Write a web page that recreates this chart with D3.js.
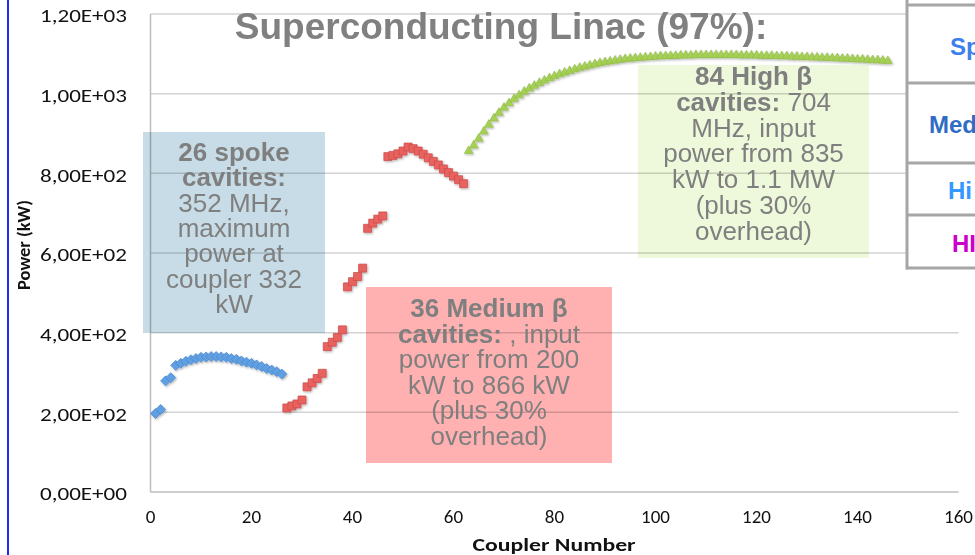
<!DOCTYPE html>
<html>
<head>
<meta charset="utf-8">
<script src="https://cdn.jsdelivr.net/npm/d3@7"></script>
<style>
  body { margin: 0; background: #fff; }
  svg { display: block; }
</style>
</head>
<body>
<svg id="chart" width="975" height="555"></svg>
<script>
// spoke cavities, couplers 1..26
const spokeStart = 1;
const spokePower = [197, 207, 279, 287, 318, 323, 328, 332, 335, 338, 339, 340, 340,
  339, 338, 335, 333, 329, 326, 323, 319, 315, 310, 306, 302, 296];

// medium beta cavities, couplers 27..62
const mediumStart = 27;
const mediumPower = [211, 216, 221, 231, 264, 274, 285, 298, 365, 376, 388, 407,
  515, 528, 541, 562, 662, 675, 685, 693, 842, 845, 849, 856, 866, 862, 856, 848,
  839, 830, 821, 811, 802, 793, 784, 774];

// high beta cavities, couplers 63..146
const highStart = 63;
const highPower = [856, 870, 887, 905, 922, 938, 952, 965, 976, 987, 996, 1005, 1013,
  1020, 1027, 1033, 1039, 1044, 1049, 1053, 1057, 1061, 1065, 1068, 1071, 1074, 1077,
  1079, 1081, 1083, 1085, 1087, 1088, 1089, 1090, 1091, 1092, 1093, 1094, 1094, 1095,
  1095, 1096, 1096, 1096, 1097, 1097, 1097, 1097, 1097, 1097, 1097, 1097, 1097, 1096,
  1096, 1096, 1096, 1095, 1095, 1095, 1094, 1094, 1094, 1093, 1093, 1092, 1092, 1091,
  1091, 1090, 1090, 1089, 1089, 1088, 1088, 1087, 1086, 1086, 1085, 1084, 1084, 1083, 1082];

const xTicks = [0, 20, 40, 60, 80, 100, 120, 140, 160];
const yTicks = [0, 200, 400, 600, 800, 1000, 1200];

const titleText = "Superconducting Linac (97%):";
const xTitle = "Coupler Number";
const yTitle = "Power (kW)";

const spokeNote = [
  { b: "26 spoke", n: "" },
  { b: "cavities:", n: "" },
  { b: "", n: "352 MHz," },
  { b: "", n: "maximum" },
  { b: "", n: "power at" },
  { b: "", n: "coupler 332" },
  { b: "", n: "kW" }
];
const mediumNote = [
  { b: "36 Medium β", n: "" },
  { b: "cavities:", n: " , input" },
  { b: "", n: "power from 200" },
  { b: "", n: "kW to 866 kW" },
  { b: "", n: "(plus 30%" },
  { b: "", n: "overhead)" }
];
const highNote = [
  { b: "84 High β", n: "" },
  { b: "cavities:", n: " 704" },
  { b: "", n: "MHz, input" },
  { b: "", n: "power from 835" },
  { b: "", n: "kW to 1.1 MW" },
  { b: "", n: "(plus 30%" },
  { b: "", n: "overhead)" }
];

const tableLabels = ["Sp", "Med", "Hi", "HI"];

function drawChart() {
  const svg = d3.select("svg#chart");
  const sans = "'Liberation Sans', Arial, sans-serif";
  const calibri = "Carlito, Calibri, 'Open Sans', sans-serif";

  const x = d3.scaleLinear().domain([0, 160]).range([150.5, 958.5]);
  const y = d3.scaleLinear().domain([0, 1200]).range([492, 14]);

  // 1,20E+03 style labels
  function fmtE(v) {
    const s = d3.format(".2e")(v); // 1.20e+3
    const parts = s.split("e");
    const sign = parts[1][0];
    const exp = parts[1].slice(1).padStart(2, "0");
    return parts[0].replace(".", ",") + "E" + sign + exp;
  }

  const defs = svg.append("defs");
  const shadow = defs.append("filter").attr("id", "shadow")
    .attr("x", "-50%").attr("y", "-50%").attr("width", "200%").attr("height", "200%");
  shadow.append("feDropShadow")
    .attr("dx", 1).attr("dy", 1.2).attr("stdDeviation", 0.9)
    .attr("flood-color", "#000").attr("flood-opacity", 0.3);

  const g = {
    grid: svg.append("g").attr("id", "grid"),
    boxes: svg.append("g").attr("id", "boxes"),
    marks: svg.append("g").attr("id", "marks"),
    notes: svg.append("g").attr("id", "notes"),
    axes: svg.append("g").attr("id", "axes"),
    table: svg.append("g").attr("id", "table")
  };

  // gridlines
  g.grid.selectAll("line.grid")
    .data(yTicks)
    .enter()
    .append("line")
    .attr("class", "grid")
    .attr("x1", x(0)).attr("x2", x(160))
    .attr("y1", d => y(d)).attr("y2", d => y(d))
    .attr("stroke", d => d === 0 ? "#bdbdbd" : "#d3d3d3")
    .attr("stroke-width", 1.5);

  g.grid.append("line")
    .attr("x1", x(0)).attr("x2", x(0))
    .attr("y1", y(1200)).attr("y2", y(0))
    .attr("stroke", "#bdbdbd").attr("stroke-width", 1.5);

  // annotation boxes (multiply so gridlines show through)
  const boxes = [
    { x0: 143, y0: 132, x1: 325, y1: 333, fill: "#c7dce6" },
    { x0: 366, y0: 287, x1: 612, y1: 463, fill: "#ffb0b0" },
    { x0: 638, y0: 65, x1: 869, y1: 258, fill: "#eef8da" }
  ];
  g.boxes.selectAll("rect")
    .data(boxes)
    .enter()
    .append("rect")
    .attr("x", d => d.x0).attr("y", d => d.y0)
    .attr("width", d => d.x1 - d.x0).attr("height", d => d.y1 - d.y0)
    .attr("fill", d => d.fill)
    .style("mix-blend-mode", "multiply");

  // markers
  function series(values, start) {
    return values.map((v, i) => ({ c: start + i, p: v }));
  }

  g.marks.append("g").attr("filter", "url(#shadow)")
    .selectAll("path.spoke")
    .data(series(spokePower, spokeStart))
    .enter()
    .append("path")
    .attr("class", "spoke")
    .attr("d", d3.symbol(d3.symbolSquare, 50))
    .attr("transform", d => "translate(" + x(d.c) + "," + y(d.p) + ") rotate(45)")
    .attr("fill", "#5f9fe2")
    .attr("stroke", "#4b88cf")
    .attr("stroke-width", 0.7);

  g.marks.append("g").attr("filter", "url(#shadow)")
    .selectAll("path.medium")
    .data(series(mediumPower, mediumStart))
    .enter()
    .append("path")
    .attr("class", "medium")
    .attr("d", d3.symbol(d3.symbolSquare, 64))
    .attr("transform", d => "translate(" + x(d.c) + "," + y(d.p) + ")")
    .attr("fill", "#e8625f")
    .attr("stroke", "#cb4a47")
    .attr("stroke-width", 0.7);

  g.marks.append("g").attr("filter", "url(#shadow)")
    .selectAll("path.high")
    .data(series(highPower, highStart))
    .enter()
    .append("path")
    .attr("class", "high")
    .attr("d", d3.symbol(d3.symbolTriangle, 34))
    .attr("transform", d => "translate(" + x(d.c) + "," + y(d.p) + ")")
    .attr("fill", "#a6d055")
    .attr("stroke", "#8fba44")
    .attr("stroke-width", 0.6);

  // notes
  function drawNote(lines, cx, y0, lh) {
    const t = g.notes.append("text")
      .attr("text-anchor", "middle")
      .attr("font-family", sans)
      .attr("font-size", 26)
      .attr("fill", "#7f7f7f");
    lines.forEach(function(ln, i) {
      const parts = [];
      if (ln.b) parts.push({ s: ln.b, w: "bold" });
      if (ln.n) parts.push({ s: ln.n, w: "normal" });
      parts.forEach(function(p, j) {
        const ts = t.append("tspan").attr("font-weight", p.w).text(p.s);
        if (j === 0) ts.attr("x", cx).attr("y", y0 + i * lh);
      });
    });
  }
  drawNote(spokeNote, 234, 161, 25.3);
  drawNote(mediumNote, 489, 317, 25.5);
  drawNote(highNote, 753.5, 85, 25.8);

  // title
  g.axes.append("text")
    .attr("x", 501).attr("y", 38.5)
    .attr("text-anchor", "middle")
    .attr("font-family", sans)
    .attr("font-weight", "bold")
    .attr("font-size", 37)
    .attr("fill", "#808080")
    .text(titleText);

  // y tick labels
  g.axes.selectAll("text.ytick")
    .data(yTicks)
    .enter()
    .append("text")
    .attr("class", "ytick")
    .attr("x", 127)
    .attr("y", d => y(d))
    .attr("dy", "0.46em")
    .attr("text-anchor", "end")
    .attr("font-family", calibri)
    .attr("font-size", 18)
    .attr("fill", "#111")
    .attr("textLength", 87)
    .attr("lengthAdjust", "spacingAndGlyphs")
    .text(fmtE);

  // x tick labels
  g.axes.selectAll("text.xtick")
    .data(xTicks)
    .enter()
    .append("text")
    .attr("class", "xtick")
    .attr("x", d => x(d))
    .attr("y", 523)
    .attr("text-anchor", "middle")
    .attr("font-family", calibri)
    .attr("font-size", 19)
    .attr("fill", "#111")
    .text(d => d);

  g.axes.append("text")
    .attr("x", 554).attr("y", 551)
    .attr("text-anchor", "middle")
    .attr("font-family", calibri)
    .attr("font-weight", "bold")
    .attr("font-size", 17)
    .attr("fill", "#111")
    .attr("textLength", 163)
    .attr("lengthAdjust", "spacingAndGlyphs")
    .text(xTitle);

  g.axes.append("text")
    .attr("transform", "translate(30,245) rotate(-90)")
    .attr("text-anchor", "middle")
    .attr("font-family", calibri)
    .attr("font-weight", "bold")
    .attr("font-size", 17)
    .attr("fill", "#111")
    .attr("textLength", 90)
    .attr("lengthAdjust", "spacingAndGlyphs")
    .text(yTitle);

  // slide edge line
  g.axes.append("line")
    .attr("x1", 8).attr("x2", 8).attr("y1", 0).attr("y2", 555)
    .attr("stroke", "#1f2cf0").attr("stroke-width", 2);

  // partial table on the right
  const rowLines = [5, 83, 163, 215, 268];
  g.table.append("rect")
    .attr("x", 907).attr("y", 0).attr("width", 80).attr("height", 268)
    .attr("fill", "#fff");
  g.table.selectAll("line.row")
    .data(rowLines)
    .enter()
    .append("line")
    .attr("class", "row")
    .attr("x1", 906).attr("x2", 980)
    .attr("y1", d => d).attr("y2", d => d)
    .attr("stroke", "#a6a6a6").attr("stroke-width", 3);
  g.table.append("line")
    .attr("x1", 907).attr("x2", 907).attr("y1", 0).attr("y2", 269.5)
    .attr("stroke", "#a6a6a6").attr("stroke-width", 3);

  const labelPos = [
    { x: 950, y: 55, c: "#3b80ec" },
    { x: 929, y: 133, c: "#2f6cc6" },
    { x: 948, y: 199, c: "#3399ff" },
    { x: 952, y: 252, c: "#cc00cc" }
  ];
  g.table.selectAll("text.cell")
    .data(tableLabels)
    .enter()
    .append("text")
    .attr("class", "cell")
    .attr("x", (d, i) => labelPos[i].x)
    .attr("y", (d, i) => labelPos[i].y)
    .attr("font-family", sans)
    .attr("font-weight", "bold")
    .attr("font-size", 24)
    .attr("fill", (d, i) => labelPos[i].c)
    .text(d => d);
}

drawChart();
</script>
</body>
</html>
